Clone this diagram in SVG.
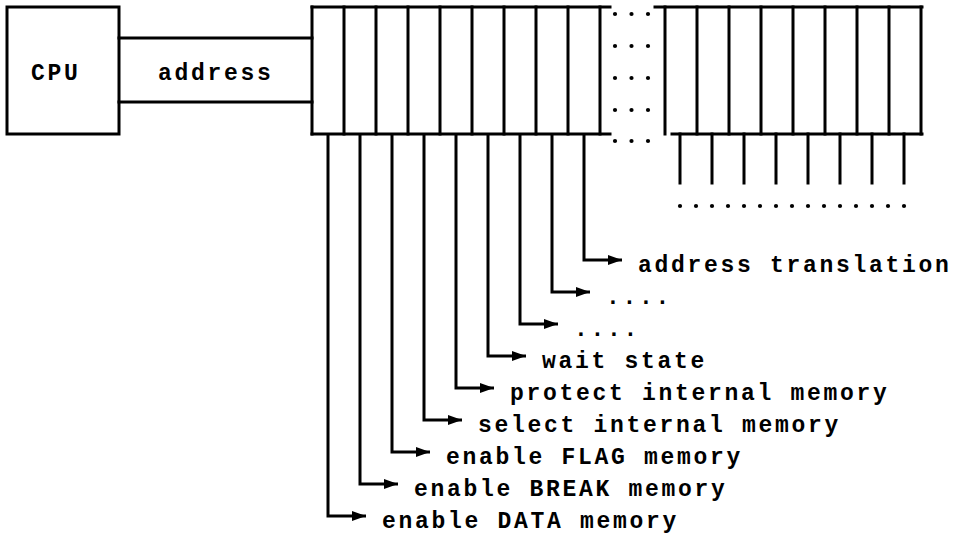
<svg xmlns="http://www.w3.org/2000/svg" width="955" height="534" viewBox="0 0 955 534">
  <style>
    .ln { fill: none; stroke: #000; stroke-width: 3; stroke-linecap: square; }
    .wire { fill: none; stroke: #000; stroke-width: 3; }
    .dot { fill: #000; }
    .t { font-family: "Liberation Mono", "DejaVu Sans Mono", monospace; font-weight: bold; font-size: 23px; letter-spacing: 2.7px; fill: #000; }
  </style>
  <defs>
    <marker id="arrow" markerUnits="userSpaceOnUse" markerWidth="15" markerHeight="11" refX="14" refY="5" orient="auto">
      <path d="M0,0 L14,5 L0,10 Z" fill="#000"/>
    </marker>
    <!-- one row of three ellipsis dots -->
    <g id="dots3">
      <circle class="dot" cx="615" cy="0" r="2.1"/>
      <circle class="dot" cx="631.5" cy="0" r="2.1"/>
      <circle class="dot" cx="648" cy="0" r="2.1"/>
    </g>
  </defs>
  <rect width="955" height="534" fill="#fff"/>

  <!-- processor -->
  <g id="cpu">
    <rect class="ln" x="7" y="7" width="112" height="127"/>
    <text class="t" x="31" y="80">CPU</text>
  </g>

  <!-- address bus between CPU and register -->
  <g id="address-bus">
    <path class="ln" d="M119,38 H312 M119,102 H312"/>
    <text class="t" x="158" y="80">address</text>
  </g>

  <!-- low-order bits of the address register -->
  <g id="register-low">
    <path class="ln" d="M312,7 H610 M312,134 H610"/>
    <path class="ln" d="M312,7 V134 M344,7 V134 M376,7 V134 M408,7 V134 M440,7 V134 M472,7 V134 M504,7 V134 M536,7 V134 M568,7 V134 M600,7 V134"/>
  </g>

  <!-- elided middle bits -->
  <g id="register-gap">
    <use href="#dots3" y="14"/>
    <use href="#dots3" y="46"/>
    <use href="#dots3" y="78"/>
    <use href="#dots3" y="110"/>
    <use href="#dots3" y="141"/>
  </g>

  <!-- high-order bits of the address register -->
  <g id="register-high">
    <path class="ln" d="M655,7 H922 M672,134 H922"/>
    <path class="ln" d="M665,7 V134 M697,7 V134 M729,7 V134 M761,7 V134 M793,7 V134 M825,7 V134 M857,7 V134 M889,7 V134 M921,7 V134"/>
    <path class="ln" d="M680,134 V183 M712,134 V183 M744,134 V183 M776,134 V183 M808,134 V183 M840,134 V183 M872,134 V183 M904,134 V183"/>
    <g id="high-dots">
      <circle class="dot" cx="680" cy="206" r="2.1"/>
      <circle class="dot" cx="696" cy="206" r="2.1"/>
      <circle class="dot" cx="712" cy="206" r="2.1"/>
      <circle class="dot" cx="728" cy="206" r="2.1"/>
      <circle class="dot" cx="744" cy="206" r="2.1"/>
      <circle class="dot" cx="760" cy="206" r="2.1"/>
      <circle class="dot" cx="776" cy="206" r="2.1"/>
      <circle class="dot" cx="792" cy="206" r="2.1"/>
      <circle class="dot" cx="808" cy="206" r="2.1"/>
      <circle class="dot" cx="824" cy="206" r="2.1"/>
      <circle class="dot" cx="840" cy="206" r="2.1"/>
      <circle class="dot" cx="856" cy="206" r="2.1"/>
      <circle class="dot" cx="872" cy="206" r="2.1"/>
      <circle class="dot" cx="888" cy="206" r="2.1"/>
      <circle class="dot" cx="904" cy="206" r="2.1"/>
    </g>
  </g>

  <!-- control lines from the register bits -->
  <g id="connectors">
    <path class="wire" d="M328,134 V516 H366" marker-end="url(#arrow)"/>
    <path class="wire" d="M360,134 V484 H398" marker-end="url(#arrow)"/>
    <path class="wire" d="M392,134 V452 H430" marker-end="url(#arrow)"/>
    <path class="wire" d="M424,134 V420 H462" marker-end="url(#arrow)"/>
    <path class="wire" d="M456,134 V388 H494" marker-end="url(#arrow)"/>
    <path class="wire" d="M488,134 V356 H526" marker-end="url(#arrow)"/>
    <path class="wire" d="M520,134 V324 H558" marker-end="url(#arrow)"/>
    <path class="wire" d="M552,134 V292 H590" marker-end="url(#arrow)"/>
    <path class="wire" d="M584,134 V260 H622" marker-end="url(#arrow)"/>
  </g>

  <!-- signal names -->
  <g id="labels">
    <text class="t" x="638" y="272">address translation</text>
    <text class="t" x="606" y="304">....</text>
    <text class="t" x="574" y="336">....</text>
    <text class="t" x="542" y="368">wait state</text>
    <text class="t" x="510" y="400">protect internal memory</text>
    <text class="t" x="478" y="432">select internal memory</text>
    <text class="t" x="446" y="464">enable FLAG memory</text>
    <text class="t" x="414" y="496">enable BREAK memory</text>
    <text class="t" x="382" y="528">enable DATA memory</text>
  </g>
</svg>
